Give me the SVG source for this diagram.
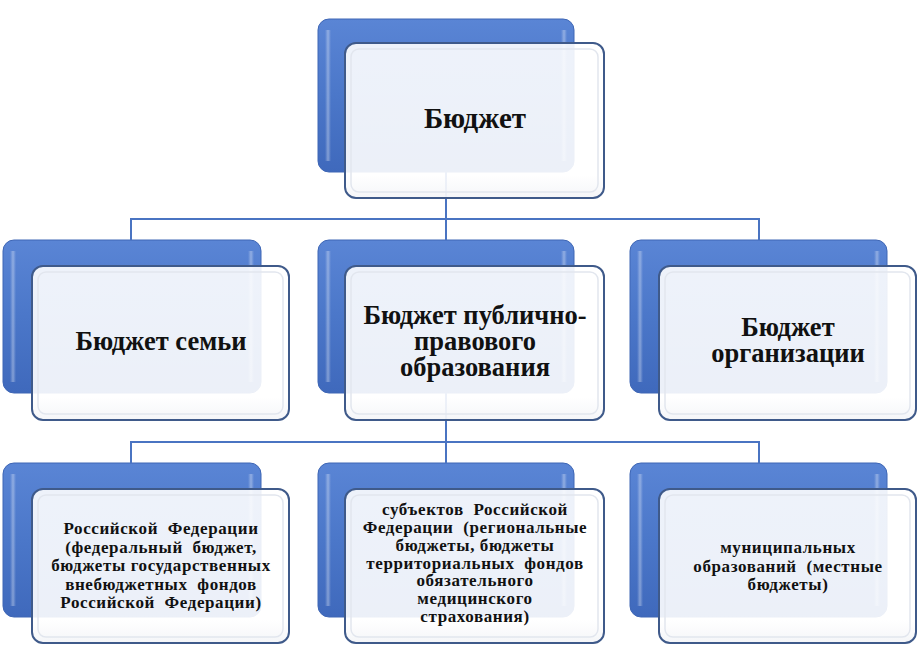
<svg xmlns="http://www.w3.org/2000/svg" width="920" height="661" viewBox="0 0 920 661">
<defs>
<linearGradient id="blueG" x1="0" y1="0" x2="0" y2="1">
<stop offset="0" stop-color="#5a85d5"/>
<stop offset="0.5" stop-color="#4b77c9"/>
<stop offset="1" stop-color="#3f69bc"/>
</linearGradient>
<linearGradient id="frontG" x1="0" y1="0" x2="0" y2="1">
<stop offset="0" stop-color="#ffffff" stop-opacity="0.9"/>
<stop offset="0.85" stop-color="#ffffff" stop-opacity="0.9"/>
<stop offset="1" stop-color="#f4f5f8" stop-opacity="0.95"/>
</linearGradient>
<linearGradient id="hl" x1="0" y1="0" x2="1" y2="0">
<stop offset="0" stop-color="#ffffff" stop-opacity="0"/>
<stop offset="0.5" stop-color="#ffffff" stop-opacity="0.35"/>
<stop offset="1" stop-color="#ffffff" stop-opacity="0"/>
</linearGradient>
</defs>
<style>
.back{fill:url(#blueG);stroke:#3e66b5;stroke-width:1}
.hl{fill:url(#hl)}
.front{fill:url(#frontG);stroke:#3f5a8a;stroke-width:2}
.inner{fill:none;stroke:#e2e6ee;stroke-width:1.5}
.conn{fill:none;stroke:#4a74c2;stroke-width:2}
.t{font-family:"Liberation Serif","Times New Roman",serif;font-weight:bold;fill:#111;text-anchor:middle;white-space:pre}
.big{font-size:26.5px}
.sm{font-size:17px;letter-spacing:0.6px}
</style>
<g id="backs">
<rect class="back" x="318" y="19" width="256" height="153" rx="11"/>
<rect class="hl" x="325" y="30" width="6" height="131"/>
<rect class="hl" x="561" y="30" width="6" height="131"/>
<rect class="back" x="3" y="240" width="258" height="153" rx="11"/>
<rect class="hl" x="10" y="251" width="6" height="131"/>
<rect class="hl" x="248" y="251" width="6" height="131"/>
<rect class="back" x="318" y="240" width="256" height="153" rx="11"/>
<rect class="hl" x="325" y="251" width="6" height="131"/>
<rect class="hl" x="561" y="251" width="6" height="131"/>
<rect class="back" x="630" y="240" width="257" height="153" rx="11"/>
<rect class="hl" x="637" y="251" width="6" height="131"/>
<rect class="hl" x="874" y="251" width="6" height="131"/>
<rect class="back" x="3" y="463" width="258" height="154" rx="11"/>
<rect class="hl" x="10" y="474" width="6" height="132"/>
<rect class="hl" x="248" y="474" width="6" height="132"/>
<rect class="back" x="318" y="463" width="256" height="154" rx="11"/>
<rect class="hl" x="325" y="474" width="6" height="132"/>
<rect class="hl" x="561" y="474" width="6" height="132"/>
<rect class="back" x="630" y="463" width="257" height="154" rx="11"/>
<rect class="hl" x="637" y="474" width="6" height="132"/>
<rect class="hl" x="874" y="474" width="6" height="132"/>
</g>
<g id="connectors">
<path class="conn" d="M446 172 V219 M131 240 V219 H759 V240 M446 219 V240"/>
<path class="conn" d="M446 393 V442 M131 463 V442 H759 V463 M446 442 V463"/>
</g>
<g id="n-budget">
<rect class="front" x="345" y="43" width="259" height="155" rx="11"/>
<rect class="inner" x="351" y="49" width="247" height="143" rx="8"/>
<text class="t" x="475" y="128" style="font-size:29px">Бюджет</text>
</g>
<g id="n-family">
<rect class="front" x="32" y="266" width="257" height="154" rx="11"/>
<rect class="inner" x="38" y="272" width="245" height="142" rx="8"/>
<text class="t big" x="161" y="350">Бюджет семьи</text>
</g>
<g id="n-public">
<rect class="front" x="345" y="266" width="259" height="154" rx="11"/>
<rect class="inner" x="351" y="272" width="247" height="142" rx="8"/>
<text class="t big" x="475" y="324">Бюджет публично-</text>
<text class="t big" x="475" y="350">правового</text>
<text class="t big" x="475" y="376">образования</text>
</g>
<g id="n-org">
<rect class="front" x="659" y="266" width="257" height="154" rx="11"/>
<rect class="inner" x="665" y="272" width="245" height="142" rx="8"/>
<text class="t big" x="788" y="336">Бюджет</text>
<text class="t big" x="788" y="362">организации</text>
</g>
<g id="n-federal">
<rect class="front" x="32" y="489" width="257" height="154" rx="11"/>
<rect class="inner" x="38" y="495" width="245" height="142" rx="8"/>
<text class="t sm" x="161" y="534">Российской  Федерации</text>
<text class="t sm" x="161" y="553">(федеральный  бюджет,</text>
<text class="t sm" x="161" y="571">бюджеты государственных</text>
<text class="t sm" x="161" y="590">внебюджетных  фондов</text>
<text class="t sm" x="161" y="608">Российской  Федерации)</text>
</g>
<g id="n-regional">
<rect class="front" x="345" y="489" width="259" height="154" rx="11"/>
<rect class="inner" x="351" y="495" width="247" height="142" rx="8"/>
<text class="t sm" x="475" y="515">субъектов  Российской</text>
<text class="t sm" x="475" y="533">Федерации  (региональные</text>
<text class="t sm" x="475" y="551">бюджеты, бюджеты</text>
<text class="t sm" x="475" y="569">территориальных  фондов</text>
<text class="t sm" x="475" y="586">обязательного</text>
<text class="t sm" x="475" y="604">медицинского</text>
<text class="t sm" x="475" y="622">страхования)</text>
</g>
<g id="n-municipal">
<rect class="front" x="659" y="489" width="257" height="154" rx="11"/>
<rect class="inner" x="665" y="495" width="245" height="142" rx="8"/>
<text class="t sm" x="788" y="553">муниципальных</text>
<text class="t sm" x="788" y="572">образований  (местные</text>
<text class="t sm" x="788" y="590">бюджеты)</text>
</g>
</svg>
